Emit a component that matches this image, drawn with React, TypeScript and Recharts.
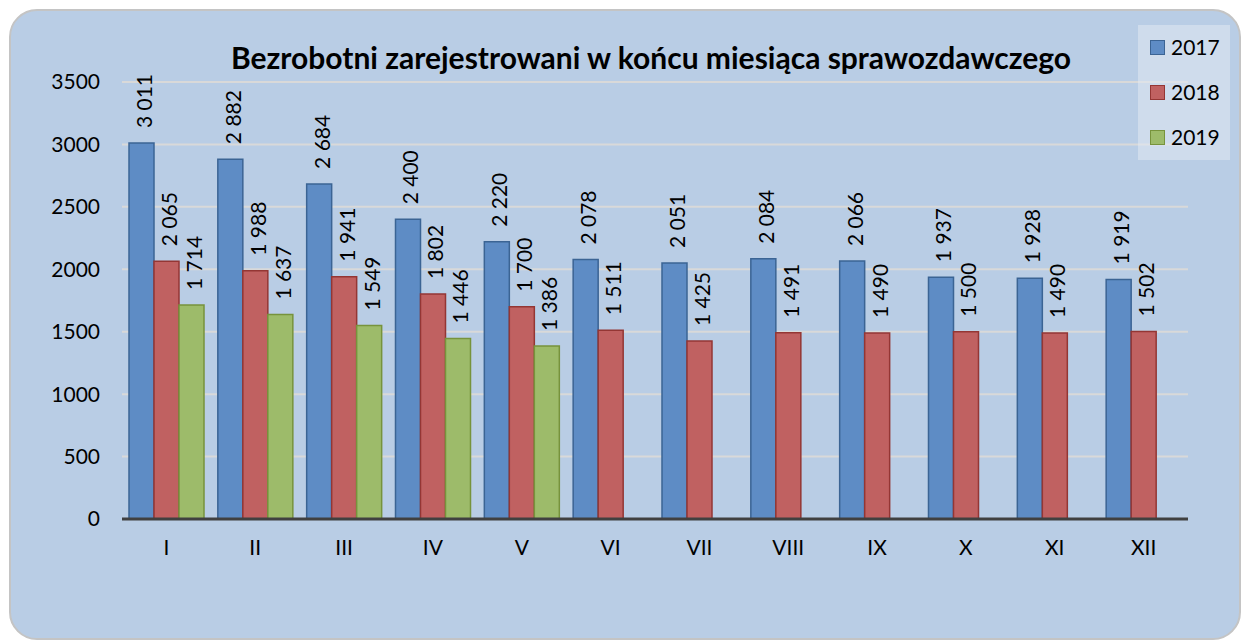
import { Bar, BarChart, CartesianGrid, LabelList, XAxis, YAxis } from "recharts"

const MONTHS = ["I", "II", "III", "IV", "V", "VI", "VII", "VIII", "IX", "X", "XI", "XII"]
const Y2017 = [3011, 2882, 2684, 2400, 2220, 2078, 2051, 2084, 2066, 1937, 1928, 1919]
const Y2018 = [2065, 1988, 1941, 1802, 1700, 1511, 1425, 1491, 1490, 1500, 1490, 1502]
const Y2019 = [1714, 1637, 1549, 1446, 1386]
const Y_TICKS = [0, 500, 1000, 1500, 2000, 2500, 3000, 3500]

const SERIES = [
  { key: "y2017", name: "2017", fill: "#5e8cc5", stroke: "#3b6494" },
  { key: "y2018", name: "2018", fill: "#c06161", stroke: "#943634" },
  { key: "y2019", name: "2019", fill: "#9dbb6a", stroke: "#77933c" },
]

const data = MONTHS.map((m, i) => ({
  month: m,
  y2017: Y2017[i],
  y2018: Y2018[i],
  y2019: i < Y2019.length ? Y2019[i] : null,
}))

const FONT = "Lato, 'Noto Sans', sans-serif"
const TICK = { fill: "#000", fontSize: 21, fontFamily: FONT }

const fmt = (n: number) => String(n).replace(/\B(?=(\d{3})+(?!\d))/g, " ")

// rotated value label sitting just above the bar
function VLabel(props: any) {
  const { x, y, width, value } = props
  if (value == null) return null
  const cx = x + width / 2 + 2
  const ty = y - 15
  return (
    <text
      x={cx}
      y={ty}
      transform={`rotate(-90, ${cx}, ${ty})`}
      textAnchor="start"
      dominantBaseline="central"
      fontSize={21}
      fontFamily={FONT}
      fill="#000"
    >
      {fmt(value)}
    </text>
  )
}

export default function App() {
  return (
    <div
      style={{
        position: "absolute",
        left: 9,
        top: 9,
        width: 1228,
        height: 627,
        background: "#b9cde5",
        border: "2px solid #c4c4c4",
        borderRadius: 28,
        overflow: "hidden",
        fontFamily: FONT,
      }}
    >
      <div
        style={{
          position: "absolute",
          left: 0,
          width: 1280,
          top: 28,
          textAlign: "center",
          fontWeight: 700,
          fontSize: 30,
          lineHeight: "36px",
        }}
      >
        Bezrobotni zarejestrowani w końcu miesiąca sprawozdawczego
      </div>
      <div style={{ position: "absolute", left: -2, top: -2 }}>
        <BarChart
          width={1232}
          height={631}
          data={data}
          margin={{ top: 73, right: 53, left: 53, bottom: 91 }}
          barCategoryGap={7}
          barGap={0}
        >
          <CartesianGrid horizontal vertical={false} stroke="#d9d9d9" strokeWidth={2} />
          <XAxis
            dataKey="month"
            tick={TICK}
            tickLine={false}
            tickSize={0}
            tickMargin={21}
            axisLine={{ stroke: "#404040", strokeWidth: 3 }}
            height={30}
          />
          <YAxis
            domain={[0, 3500]}
            ticks={Y_TICKS}
            tick={TICK}
            tickLine={false}
            tickSize={0}
            tickMargin={22}
            axisLine={false}
            width={60}
          />
          {SERIES.map((s) => (
            <Bar key={s.key} dataKey={s.key} name={s.name} fill={s.fill} stroke={s.stroke} strokeWidth={1.5} isAnimationActive={false}>
              <LabelList dataKey={s.key} content={VLabel} />
            </Bar>
          ))}
        </BarChart>
      </div>
      <div
        style={{
          position: "absolute",
          left: 1127,
          top: 14,
          width: 92,
          height: 135,
          background: "rgba(225,233,243,0.55)",
        }}
      >
        {SERIES.map((s, i) => (
          <div key={s.key} style={{ position: "absolute", left: 12, top: 22 + i * 45 - 12, height: 24, display: "flex", alignItems: "center" }}>
            <span style={{ width: 13, height: 13, background: s.fill, border: `1px solid ${s.stroke}`, display: "inline-block" }} />
            <span style={{ marginLeft: 6, fontSize: 21, lineHeight: "24px" }}>{s.name}</span>
          </div>
        ))}
      </div>
    </div>
  )
}
